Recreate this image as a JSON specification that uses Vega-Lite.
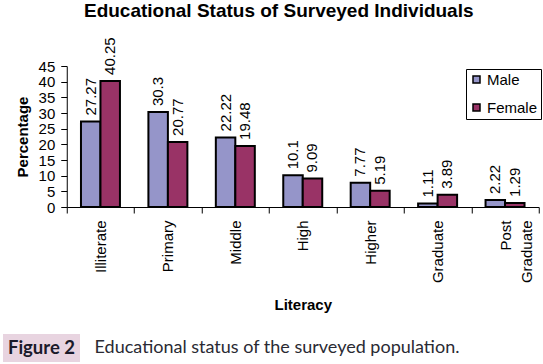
{
  "$schema": "https://vega.github.io/schema/vega-lite/v6.json",
  "padding": {"left": 3, "top": 2, "right": 0, "bottom": 0},
  "background": "#ffffff",
  "config": {
    "view": {"stroke": null},
    "font": "Liberation Sans"
  },
  "spacing": 21,
  "center": true,
  "vconcat": [
    {
      "width": 472,
      "height": 141,
      "title": {
        "text": "Educational Status of Surveyed Individuals",
        "font": "Liberation Sans",
        "fontSize": 19,
        "fontWeight": "bold",
        "color": "#000000",
        "dx": -24,
        "offset": 16
      },
      "data": {
        "values": [
          {"level": "Illiterate", "sex": "Male", "pct": 27.27},
          {"level": "Illiterate", "sex": "Female", "pct": 40.25},
          {"level": "Primary", "sex": "Male", "pct": 30.3},
          {"level": "Primary", "sex": "Female", "pct": 20.77},
          {"level": "Middle", "sex": "Male", "pct": 22.22},
          {"level": "Middle", "sex": "Female", "pct": 19.48},
          {"level": "High", "sex": "Male", "pct": 10.1},
          {"level": "High", "sex": "Female", "pct": 9.09},
          {"level": "Higher", "sex": "Male", "pct": 7.77},
          {"level": "Higher", "sex": "Female", "pct": 5.19},
          {"level": "Graduate", "sex": "Male", "pct": 1.11},
          {"level": "Graduate", "sex": "Female", "pct": 3.89},
          {"level": "Post Graduate", "sex": "Male", "pct": 2.22},
          {"level": "Post Graduate", "sex": "Female", "pct": 1.29}
        ]
      },
      "encoding": {
        "x": {
          "field": "level",
          "type": "nominal",
          "sort": ["Illiterate", "Primary", "Middle", "High", "Higher", "Graduate", "Post Graduate"],
          "scale": {"paddingInner": 0, "paddingOuter": 0},
          "title": "Literacy",
          "axis": {
            "labelAngle": 270,
            "labelAlign": "right",
            "labelBaseline": "middle",
            "labelFont": "Liberation Sans",
            "labelFontSize": 15,
            "labelColor": "#000000",
            "labelPadding": 7,
            "labelLimit": 0,
            "labelLineHeight": 21,
            "labelExpr": "split(datum.label, ' ')",
            "tickBand": "extent",
            "tickSize": 6,
            "tickColor": "#000000",
            "domainColor": "#000000",
            "titleFont": "Liberation Sans",
            "titleFontSize": 15,
            "titleFontWeight": "bold",
            "titleColor": "#000000",
            "titlePadding": 15
          }
        },
        "xOffset": {
          "field": "sex",
          "type": "nominal",
          "sort": ["Male", "Female"],
          "scale": {"paddingInner": 0, "paddingOuter": 0.73}
        },
        "y": {
          "field": "pct",
          "type": "quantitative",
          "scale": {"domain": [0, 45]},
          "title": "Percentage",
          "axis": {
            "values": [0, 5, 10, 15, 20, 25, 30, 35, 40, 45],
            "grid": false,
            "labelFont": "Liberation Sans",
            "labelFontSize": 15,
            "labelColor": "#000000",
            "labelPadding": 6,
            "tickSize": 6,
            "tickColor": "#000000",
            "domainColor": "#000000",
            "titleFont": "Liberation Sans",
            "titleFontSize": 15,
            "titleFontWeight": "bold",
            "titleColor": "#000000",
            "titlePadding": 8
          }
        }
      },
      "layer": [
        {
          "mark": {"type": "bar", "stroke": "#000000", "strokeWidth": 2},
          "encoding": {
            "color": {
              "field": "sex",
              "type": "nominal",
              "scale": {"domain": ["Male", "Female"], "range": ["#9595c9", "#993366"]},
              "legend": {
                "title": null,
                "orient": "none",
                "legendX": 463,
                "legendY": 3,
                "strokeColor": "#000000",
                "fillColor": "#ffffff",
                "padding": 3,
                "rowPadding": 12,
                "symbolType": "square",
                "symbolSize": 49,
                "symbolStrokeColor": "#000000",
                "symbolStrokeWidth": 1.5,
                "labelFont": "Liberation Sans",
                "labelFontSize": 15,
                "labelColor": "#000000",
                "labelOffset": 3
              }
            }
          }
        },
        {
          "mark": {
            "type": "text",
            "angle": 270,
            "align": "left",
            "baseline": "middle",
            "dx": 6,
            "font": "Liberation Sans",
            "fontSize": 15,
            "color": "#000000"
          },
          "encoding": {
            "text": {"field": "pct", "type": "nominal"}
          }
        }
      ]
    },
    {
      "hconcat": [
        {
          "width": 77,
          "height": 28,
          "view": {"fill": "#e8d4e0", "stroke": null},
          "data": {"values": [{"label": "Figure 2"}]},
          "mark": {
            "type": "text",
            "font": "Lato",
            "fontSize": 18.5,
            "fontWeight": "bold",
            "color": "#1a1a2a",
            "baseline": "middle",
            "align": "center"
          },
          "encoding": {"text": {"field": "label", "type": "nominal"}}
        },
        {
          "width": 374,
          "height": 28,
          "view": {"stroke": null},
          "data": {"values": [{"caption": "Educational status of the surveyed population."}]},
          "mark": {
            "type": "text",
            "font": "Lato",
            "fontSize": 18,
            "color": "#2a2a33",
            "baseline": "middle",
            "align": "center"
          },
          "encoding": {"text": {"field": "caption", "type": "nominal"}}
        },
        {
          "width": 129,
          "height": 28,
          "view": {"fill": "#ffffff", "stroke": null},
          "data": {"values": [{"blank": ""}]},
          "mark": {"type": "text"},
          "encoding": {"text": {"field": "blank", "type": "nominal"}}
        }
      ],
      "spacing": 10
    }
  ]
}
